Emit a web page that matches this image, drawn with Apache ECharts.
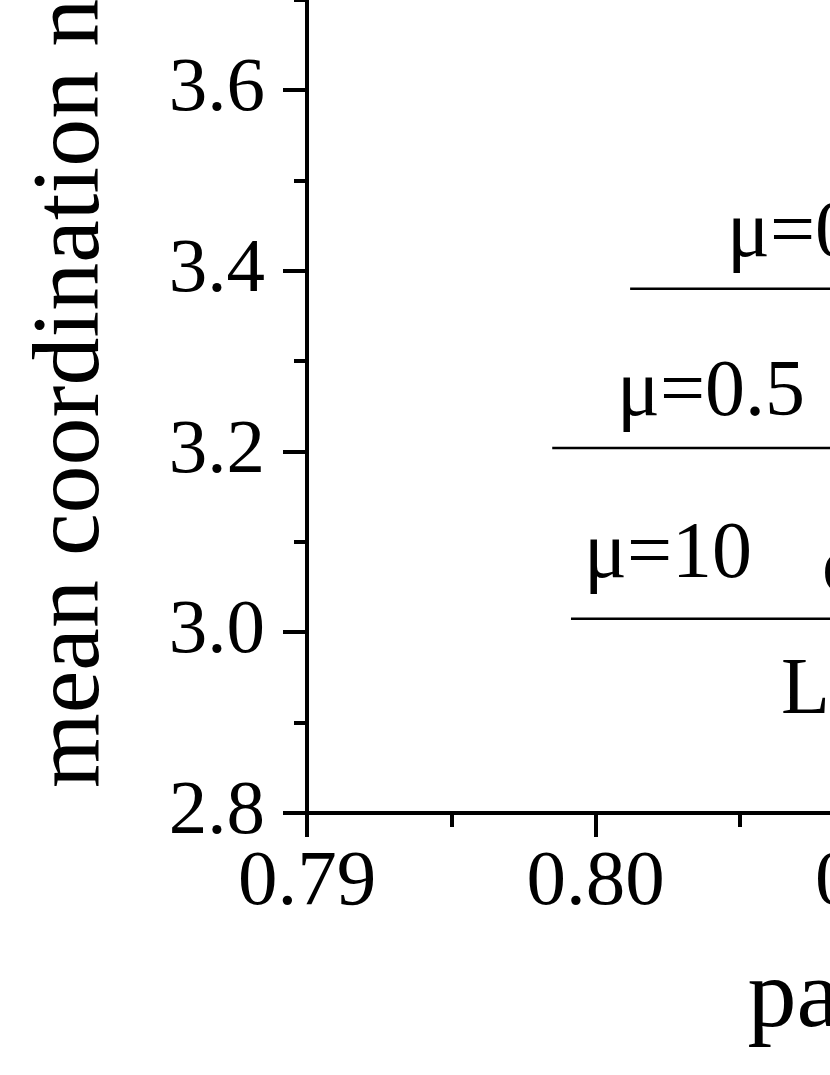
<!DOCTYPE html>
<html>
<head>
<meta charset="utf-8">
<script src="https://cdn.jsdelivr.net/npm/echarts@6/dist/echarts.min.js"></script>
<style>
html,body{margin:0;padding:0;background:#fff;}
#chart{width:830px;height:1075px;}
</style>
</head>
<body>
<div id="chart"></div>
<script>
// ---- data ----
const seriesNames = ['μ=0', 'μ=0.5', 'μ=10'];
const lineStartX = [0.8012, 0.7985, 0.79915];
const lineEndX = [0.81, 0.81, 0.81];
const lineY = [3.380, 3.204, 3.015];
const xRange = [0.79, 0.84];
const yRange = [2.8, 4.0];
const xInterval = 0.01;
const yInterval = 0.2;
const xTitle = 'packing fraction';
const yTitle = 'mean coordination number';
const annotationTexts = ['μ=0', 'μ=0.5', 'μ=10', 'o', 'LS'];

const FONT = 'Liberation Serif, Times New Roman, serif';
const chart = echarts.init(document.getElementById('chart'), null, {renderer: 'canvas'});

const series = seriesNames.map((name, i) => ({
  name: name,
  type: 'line',
  data: [[lineStartX[i], lineY[i]], [lineEndX[i], lineY[i]]],
  symbol: 'none',
  lineStyle: {color: '#000', width: 2.5},
  silent: true
}));

function txt(text, x, y) {
  return {
    type: 'text',
    x: x, y: y,
    style: {
      text: text,
      font: '80px ' + FONT,
      fill: '#000',
      textAlign: 'left',
      textVerticalAlign: 'middle'
    },
    silent: true
  };
}

const option = {
  animation: false,
  backgroundColor: '#fff',
  grid: {
    left: 307,
    bottom: 262,
    top: -271.5,
    right: -919.5,
    containLabel: false,
    outerBoundsMode: 'none'
  },
  xAxis: {
    type: 'value',
    min: xRange[0],
    max: xRange[1],
    interval: xInterval,
    name: xTitle,
    nameLocation: 'middle',
    nameGap: 138,
    nameTextStyle: {fontFamily: FONT, fontSize: 98, color: '#000', padding: [0, 0, 0, 78]},
    axisLine: {show: true, onZero: false, lineStyle: {color: '#000', width: 4}},
    axisTick: {show: true, length: 24, lineStyle: {color: '#000', width: 4}},
    minorTick: {show: true, splitNumber: 2, length: 14, lineStyle: {color: '#000', width: 4}},
    splitLine: {show: false},
    axisLabel: {
      fontFamily: FONT, fontSize: 79, color: '#000', margin: 31,
      formatter: v => v.toFixed(2)
    }
  },
  yAxis: {
    type: 'value',
    min: yRange[0],
    max: yRange[1],
    interval: yInterval,
    name: yTitle,
    nameLocation: 'middle',
    nameRotate: 90,
    nameGap: 186,
    nameTextStyle: {fontFamily: FONT, fontSize: 96, color: '#000'},
    axisLine: {show: true, onZero: false, lineStyle: {color: '#000', width: 4}},
    axisTick: {show: true, length: 24, lineStyle: {color: '#000', width: 4}},
    minorTick: {show: true, splitNumber: 2, length: 13, lineStyle: {color: '#000', width: 4}},
    splitLine: {show: false},
    axisLabel: {
      fontFamily: FONT, fontSize: 77, color: '#000', margin: 42,
      formatter: v => v.toFixed(1)
    }
  },
  series: series,
  graphic: [
    txt(annotationTexts[0], 727, 235),
    txt(annotationTexts[1], 617, 394),
    txt(annotationTexts[2], 584, 556),
    txt(annotationTexts[3], 822, 570),
    txt(annotationTexts[4], 781, 692)
  ]
};
chart.setOption(option);
</script>
</body>
</html>
